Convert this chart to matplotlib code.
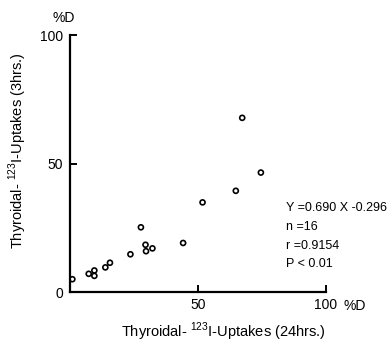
import matplotlib
matplotlib.use('Agg')
import matplotlib.pyplot as plt

plt.rcParams['font.family'] = ['Liberation Sans', 'DejaVu Sans']
plt.rcParams['mathtext.fontset'] = 'custom'
plt.rcParams['mathtext.rm'] = 'Liberation Sans'

# uptake values (%D)
uptake_24h = [0.9, 7.3, 9.5, 9.5, 13.8, 15.6, 23.6, 27.7, 29.5, 29.7,
              32.2, 44.2, 51.8, 64.8, 67.3, 74.6]
uptake_3h = [5.0, 7.1, 8.4, 6.3, 9.6, 11.4, 14.7, 25.2, 18.4, 15.9,
             17.0, 19.1, 34.9, 39.4, 67.8, 46.5]
stats_lines = ['Y =0.690 X -0.296', 'n =16', 'r =0.9154', 'P < 0.01']

fig = plt.figure(figsize=(3.87, 3.44), dpi=100)
ax = fig.add_axes([0.181, 0.151, 0.661, 0.747])

ax.scatter(uptake_24h, uptake_3h, s=13, facecolors='none',
           edgecolors='black', linewidths=1.2, zorder=3)

ax.set_xlim(0, 100)
ax.set_ylim(0, 100)
ax.spines['top'].set_visible(False)
ax.spines['right'].set_visible(False)
for s in ['left', 'bottom']:
    ax.spines[s].set_linewidth(1.6)

ax.set_xticks([50, 100])
ax.set_xticklabels(['50', '100'])
ax.set_yticks([0, 50, 100])
ax.set_yticklabels(['0', '50', '100'])
ax.tick_params(axis='both', direction='in', length=5, width=1.4,
               labelsize=10, pad=4)
ax.tick_params(axis='y', pad=5)
ax.yaxis.get_major_ticks()[0].tick1line.set_visible(False)

ax.text(107, -2.6, '%D', fontsize=10, va='top', ha='left')
ax.text(-7, 104, '%D', fontsize=10, va='bottom', ha='left')

ax.set_xlabel(r'Thyroidal- $^{\mathrm{123}}$I-Uptakes (24hrs.)',
              fontsize=10.5)
ax.set_ylabel(r'Thyroidal- $^{\mathrm{123}}$I-Uptakes (3hrs.)',
              fontsize=10.5)
ax.xaxis.set_label_coords(0.6, -0.11)
ax.yaxis.set_label_coords(-0.16, 0.55)

ax.text(84.3, 35, '\n'.join(stats_lines), fontsize=9,
        va='top', ha='left', linespacing=1.75)

fig.savefig('out.png', dpi=100)
